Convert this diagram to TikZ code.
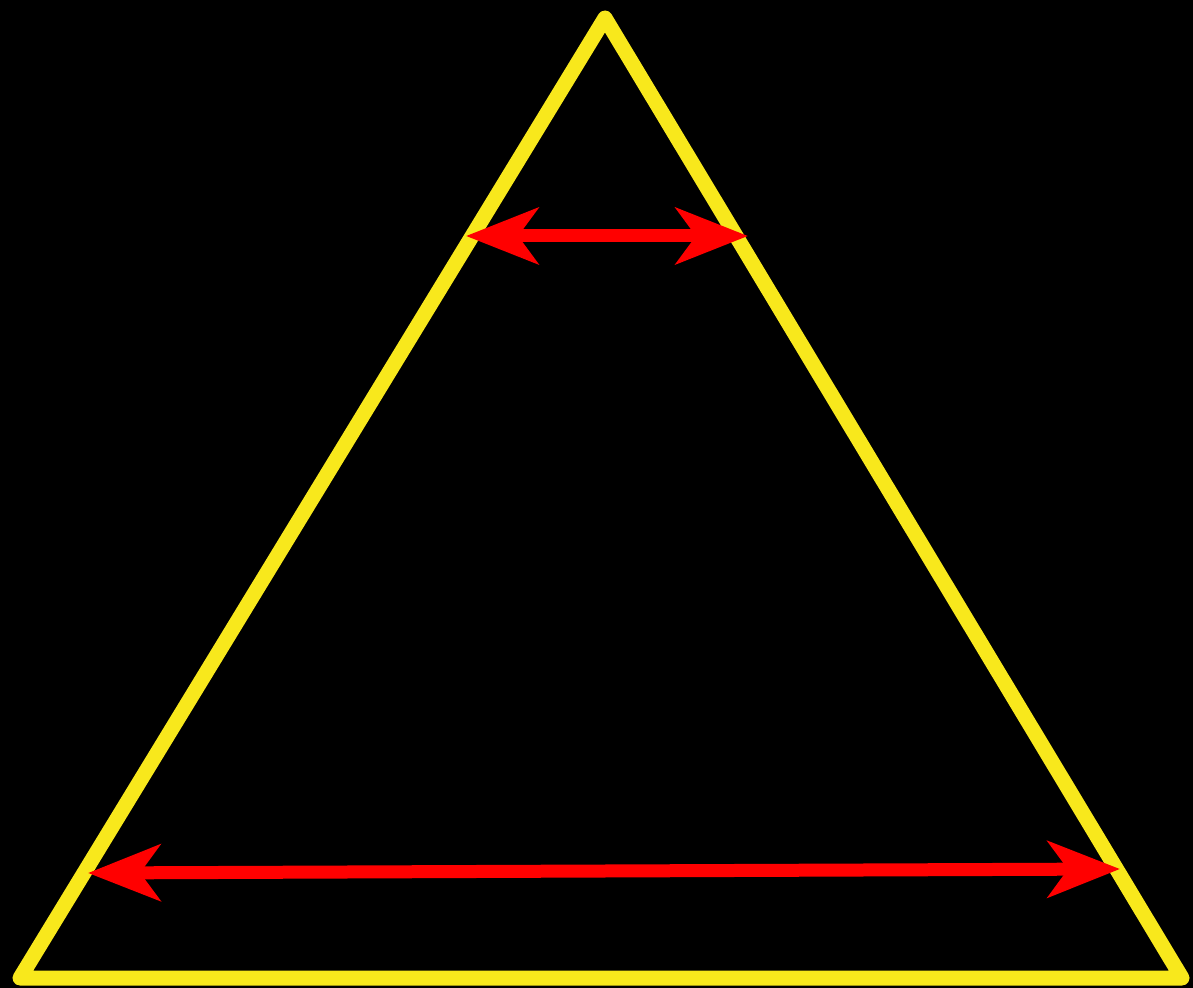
\documentclass[tikz,border=0pt]{standalone}
\usepackage{tikz}
\usetikzlibrary{arrows.meta,backgrounds}
\definecolor{edge}{HTML}{F8E81C}
\definecolor{span}{HTML}{FF0000}
\tikzset{
  side/.style  = {draw=edge, line width=7.5pt, line join=round},
  gauge/.style = {{Stealth[length=36pt, width=28pt, inset=10pt]}-{Stealth[length=36pt, width=28pt, inset=10pt]},
                  draw=span, line width=6.5pt},
}

\begin{document}
\begin{tikzpicture}[x=0.5pt, y=-0.5pt]
  \fill[black] (0,0) rectangle (1193,988);
  \useasboundingbox (0,0) rectangle (1193,988);
  \coordinate (apex) at (605,18);
  \coordinate (bl) at (20,978);
  \coordinate (br) at (1182,978);
  \coordinate (topL) at (466,236);
  \coordinate (topR) at (748,236);
  \coordinate (botL) at (88,873);
  \coordinate (botR) at (1120,869);

  \draw[side] (apex) -- (bl) -- (br) -- cycle;
  \draw[gauge] (topL) -- (topR);
  \draw[gauge] (botL) -- (botR);
\end{tikzpicture}
\end{document}
